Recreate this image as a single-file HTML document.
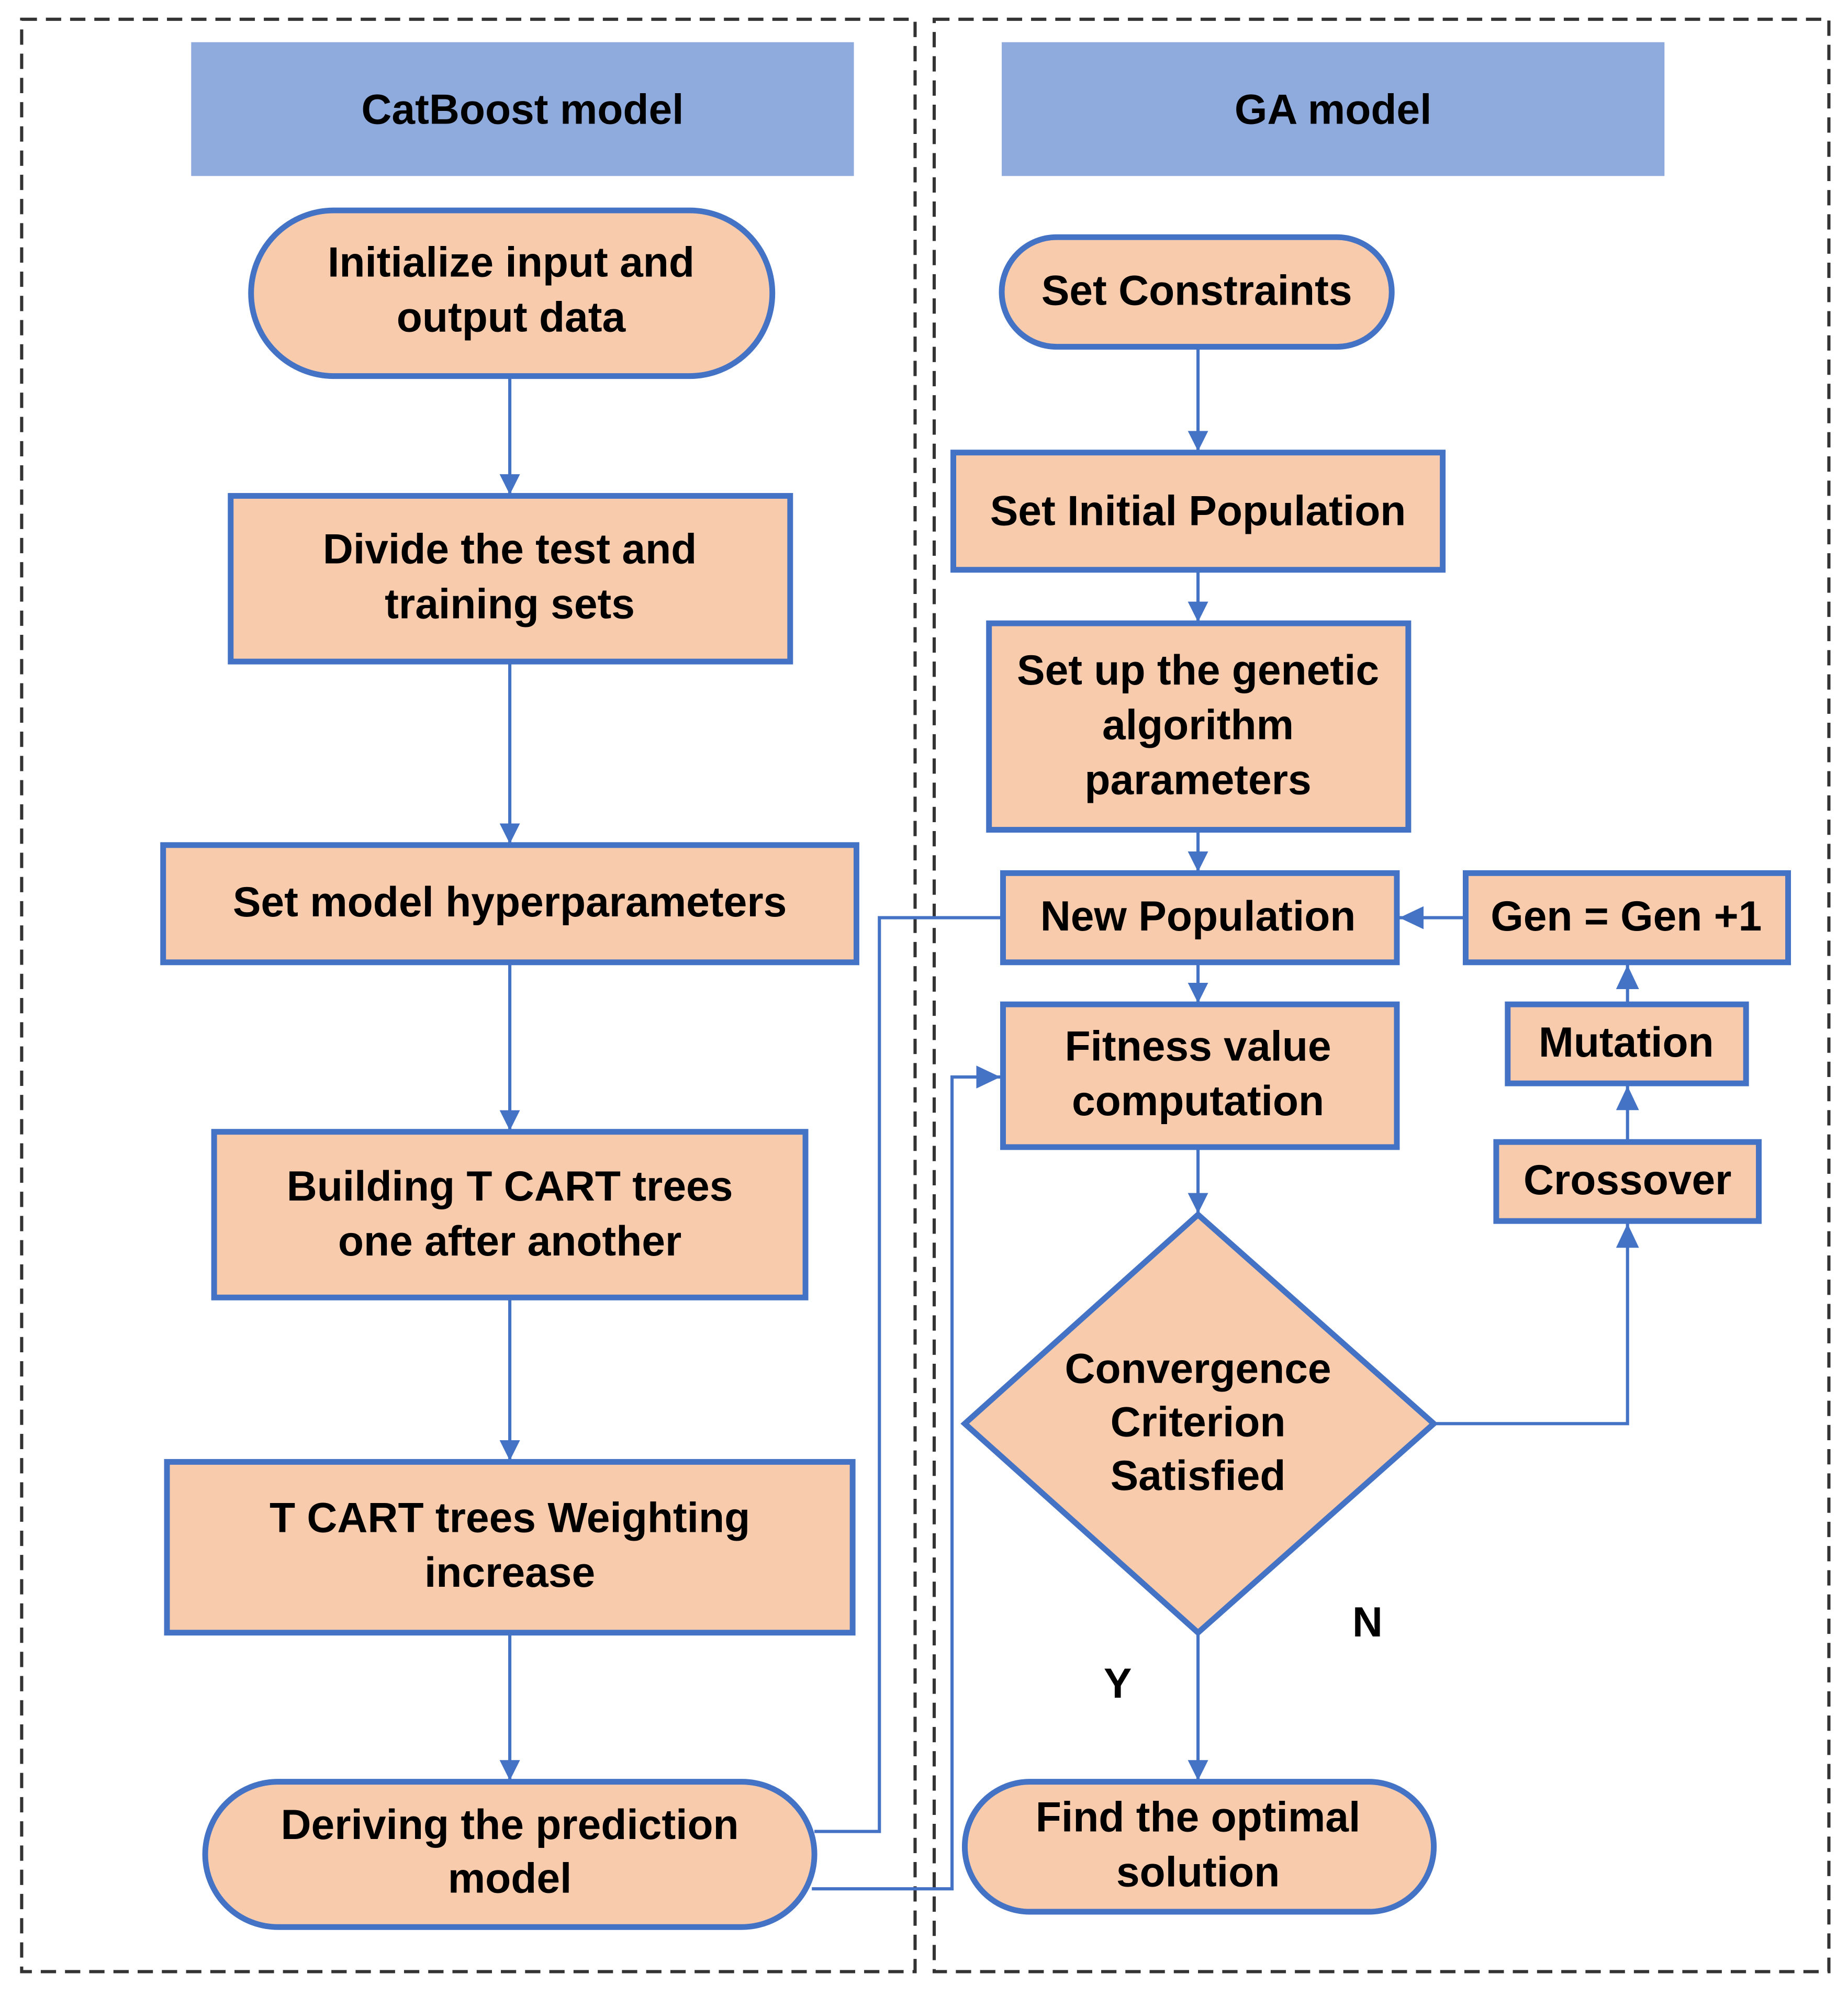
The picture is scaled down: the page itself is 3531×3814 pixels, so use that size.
<!DOCTYPE html>
<html><head><meta charset="utf-8"><style>
html,body{margin:0;padding:0;background:#fff;}
svg{display:block;}
text{font-family:"Liberation Sans",Arial,sans-serif;font-weight:bold;font-size:33px;fill:#000;text-anchor:middle;}
</style></head><body>
<svg width="3531" height="3814" viewBox="0 0 1450 1566" xmlns="http://www.w3.org/2000/svg">
<defs>
<marker id="a" markerWidth="16" markerHeight="16" refX="15" refY="8" orient="auto" markerUnits="userSpaceOnUse">
<path d="M0,0 L16,8 L0,16 z" fill="#4472c4"/></marker>
<marker id="b" markerWidth="20" markerHeight="20" refX="19" refY="9" orient="auto" markerUnits="userSpaceOnUse">
<path d="M0,0 L19,9 L0,18 z" fill="#4472c4"/></marker>
</defs>
<rect width="1450" height="1566" fill="#fff"/>
<rect x="17" y="15" width="701" height="1532" fill="none" stroke="#333" stroke-width="2.5" stroke-dasharray="12,7"/>
<rect x="733" y="15" width="702" height="1532" fill="none" stroke="#333" stroke-width="2.5" stroke-dasharray="12,7"/>
<rect x="150" y="33" width="520" height="105" fill="#8faadc"/>
<rect x="786" y="33" width="520" height="105" fill="#8faadc"/>
<text x="410" y="97">CatBoost model</text>
<text x="1046" y="97">GA model</text>

<g fill="none" stroke="#4472c4" stroke-width="2.5">
<line x1="400" y1="295" x2="400" y2="387" marker-end="url(#a)"/>
<line x1="400" y1="519" x2="400" y2="661" marker-end="url(#a)"/>
<line x1="400" y1="755" x2="400" y2="886" marker-end="url(#a)"/>
<line x1="400" y1="1018" x2="400" y2="1145" marker-end="url(#a)"/>
<line x1="400" y1="1281" x2="400" y2="1396" marker-end="url(#a)"/>
<line x1="940" y1="272" x2="940" y2="353" marker-end="url(#a)"/>
<line x1="940" y1="447" x2="940" y2="487" marker-end="url(#a)"/>
<line x1="940" y1="651" x2="940" y2="683" marker-end="url(#a)"/>
<line x1="940" y1="755" x2="940" y2="786" marker-end="url(#a)"/>
<line x1="940" y1="900" x2="940" y2="951" marker-end="url(#a)"/>
<line x1="940" y1="1281" x2="940" y2="1396" marker-end="url(#a)"/>
<polyline points="1125,1117 1277,1117 1277,960" marker-end="url(#b)"/>
<line x1="1277" y1="896" x2="1277" y2="852" marker-end="url(#b)"/>
<line x1="1277" y1="788" x2="1277" y2="757" marker-end="url(#b)"/>
<line x1="1150" y1="720" x2="1098" y2="720" marker-end="url(#b)"/>
<polyline points="787,720 690,720 690,1437 639,1437"/>
<polyline points="637,1482 747,1482 747,845 785,845" marker-end="url(#b)"/>
</g>

<g fill="#f8cbad" stroke="#4472c4" stroke-width="4.5">
<rect x="197" y="165" width="409" height="130" rx="65"/>
<rect x="181" y="389" width="439" height="130"/>
<rect x="128" y="663" width="544" height="92"/>
<rect x="168" y="888" width="464" height="130"/>
<rect x="131" y="1147" width="538" height="134"/>
<rect x="161" y="1398" width="478" height="114" rx="57"/>
<rect x="786" y="186" width="306" height="86" rx="43"/>
<rect x="748" y="355" width="384" height="92"/>
<rect x="776" y="489" width="329" height="162"/>
<rect x="787" y="685" width="309" height="70"/>
<rect x="787" y="788" width="309" height="112"/>
<polygon points="940,953 1125,1117 940,1281 757,1117"/>
<rect x="757" y="1398" width="368" height="102" rx="51"/>
<rect x="1150" y="685" width="253" height="70"/>
<rect x="1183" y="788" width="187" height="62"/>
<rect x="1174" y="896" width="206" height="62"/>
</g>

<text x="401" y="217">Initialize input and</text>
<text x="401" y="260">output data</text>
<text x="400" y="442">Divide the test and</text>
<text x="400" y="485">training sets</text>
<text x="400" y="719">Set model hyperparameters</text>
<text x="400" y="942">Building T CART trees</text>
<text x="400" y="985">one after another</text>
<text x="400" y="1202">T CART trees Weighting</text>
<text x="400" y="1245">increase</text>
<text x="400" y="1443">Deriving the prediction</text>
<text x="400" y="1485">model</text>
<text x="939" y="239">Set Constraints</text>
<text x="940" y="412">Set Initial Population</text>
<text x="940" y="537">Set up the genetic</text>
<text x="940" y="580">algorithm</text>
<text x="940" y="623">parameters</text>
<text x="940" y="730">New Population</text>
<text x="940" y="832">Fitness value</text>
<text x="940" y="875">computation</text>
<text x="940" y="1085">Convergence</text>
<text x="940" y="1127">Criterion</text>
<text x="940" y="1169">Satisfied</text>
<text x="940" y="1437">Find the optimal</text>
<text x="940" y="1480">solution</text>
<text x="1276" y="730">Gen = Gen +1</text>
<text x="1276" y="829">Mutation</text>
<text x="1277" y="937">Crossover</text>
<text x="1073" y="1284">N</text>
<text x="877" y="1332">Y</text>
</svg>
</body></html>
